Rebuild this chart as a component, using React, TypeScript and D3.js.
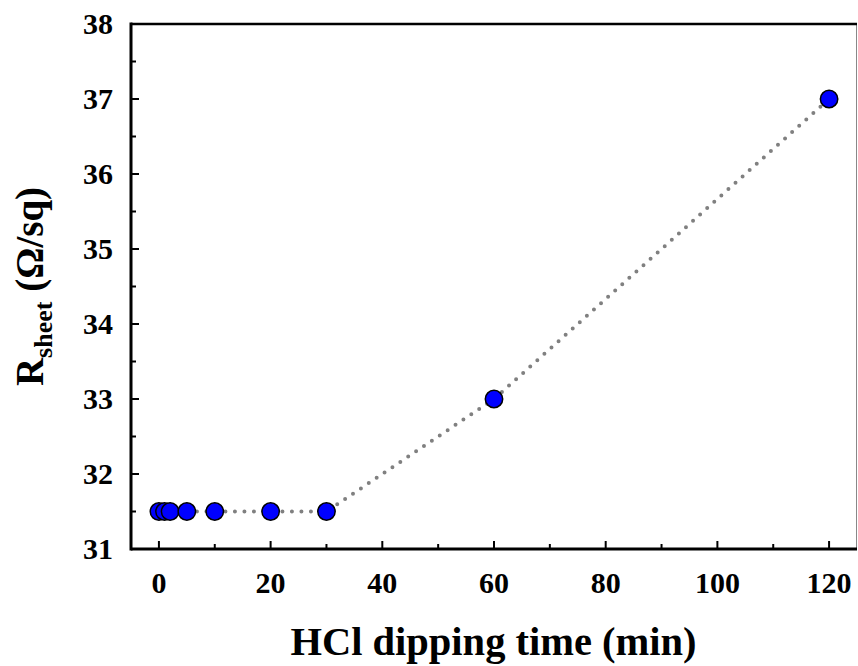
import React, { useEffect, useRef } from "react";
import * as d3 from "d3";

const times = [0, 1, 2, 5, 10, 20, 30, 60, 120];
const rsheet = [31.5, 31.5, 31.5, 31.5, 31.5, 31.5, 31.5, 33.0, 37.0];
const xMajorTicks = [0, 20, 40, 60, 80, 100, 120];
const xMinorTicks = [10, 30, 50, 70, 90, 110];
const yMajorTicks = [31, 32, 33, 34, 35, 36, 37, 38];
const yMinorTicks = [31.5, 32.5, 33.5, 34.5, 35.5, 36.5, 37.5];

const W = 858, H = 666;
const L = 131, R = 857, T = 24, B = 549;
const FONT = "'Liberation Serif', 'Times New Roman', serif";

export default function App() {
  const ref = useRef<SVGSVGElement>(null);
  useEffect(() => {
    const svg = d3.select(ref.current);
    svg.selectAll("*").remove();
    const x = d3.scaleLinear().domain([-5, 125]).range([L, R]);
    const y = d3.scaleLinear().domain([31, 38]).range([B, T]);

    // frame
    svg.append("line").attr("x1", R - 0.5).attr("x2", R - 0.5).attr("y1", T).attr("y2", B)
      .attr("stroke", "#888").attr("stroke-width", 1);
    svg.append("line").attr("x1", L).attr("x2", R).attr("y1", T).attr("y2", T)
      .attr("stroke", "#000").attr("stroke-width", 2.5);

    // dotted line
    const pts = times.map((t, i) => [t, rsheet[i]] as [number, number]);
    const line = d3.line<[number, number]>()
      .x(d => x(d[0])).y(d => y(d[1]))
      .curve(d3.curveLinear);
    svg.append("path").attr("d", line(pts)!)
      .attr("fill", "none").attr("stroke", "#808080").attr("stroke-width", 4)
      .attr("stroke-linecap", "round").attr("stroke-dasharray", "0 9.5");

    // axes
    const g = svg.append("g");
    g.append("line").attr("x1", L).attr("x2", R).attr("y1", B).attr("y2", B)
      .attr("stroke", "#000").attr("stroke-width", 3);
    g.append("line").attr("x1", L).attr("x2", L).attr("y1", T - 1.5).attr("y2", B + 1.5)
      .attr("stroke", "#000").attr("stroke-width", 3);

    xMajorTicks.forEach(t => {
      g.append("line").attr("x1", x(t)).attr("x2", x(t)).attr("y1", B).attr("y2", B - 8)
        .attr("stroke", "#000").attr("stroke-width", 2);
      g.append("text").attr("x", x(t)).attr("y", B + 44).attr("text-anchor", "middle")
        .attr("font-family", FONT).attr("font-weight", "bold").attr("font-size", 30)
        .text(String(t));
    });
    xMinorTicks.forEach(t => {
      g.append("line").attr("x1", x(t)).attr("x2", x(t)).attr("y1", B).attr("y2", B - 5)
        .attr("stroke", "#000").attr("stroke-width", 2);
    });
    yMajorTicks.forEach(t => {
      g.append("line").attr("x1", L).attr("x2", L + 8).attr("y1", y(t)).attr("y2", y(t))
        .attr("stroke", "#000").attr("stroke-width", 2);
      g.append("text").attr("x", 113).attr("y", y(t) + 10).attr("text-anchor", "end")
        .attr("font-family", FONT).attr("font-weight", "bold").attr("font-size", 30)
        .text(String(t));
    });
    yMinorTicks.forEach(t => {
      g.append("line").attr("x1", L).attr("x2", L + 5).attr("y1", y(t)).attr("y2", y(t))
        .attr("stroke", "#000").attr("stroke-width", 2);
    });

    // markers
    svg.append("g").selectAll("circle").data(pts).join("circle")
      .attr("cx", d => x(d[0])).attr("cy", d => y(d[1])).attr("r", 8.7)
      .attr("fill", "#0000ff").attr("stroke", "#000").attr("stroke-width", 1.5);

    // titles
    svg.append("text").attr("x", 493.5).attr("y", 655).attr("text-anchor", "middle")
      .attr("font-family", FONT).attr("font-weight", "bold").attr("font-size", 40.5)
      .text("HCl dipping time (min)");
    const yt = svg.append("text").attr("transform", `translate(43, ${(T + B) / 2}) rotate(-90)`)
      .attr("text-anchor", "middle").attr("font-family", FONT).attr("font-weight", "bold")
      .attr("font-size", 39);
    yt.append("tspan").text("R");
    yt.append("tspan").attr("font-size", 26).attr("dy", 9).text("sheet");
    yt.append("tspan").attr("dy", -9).text(" (Ω/sq)");
  }, []);
  return (
    <svg ref={ref} width={W} height={H} style={{ position: "absolute", left: 0, top: 0, background: "#fff" }} />
  );
}
